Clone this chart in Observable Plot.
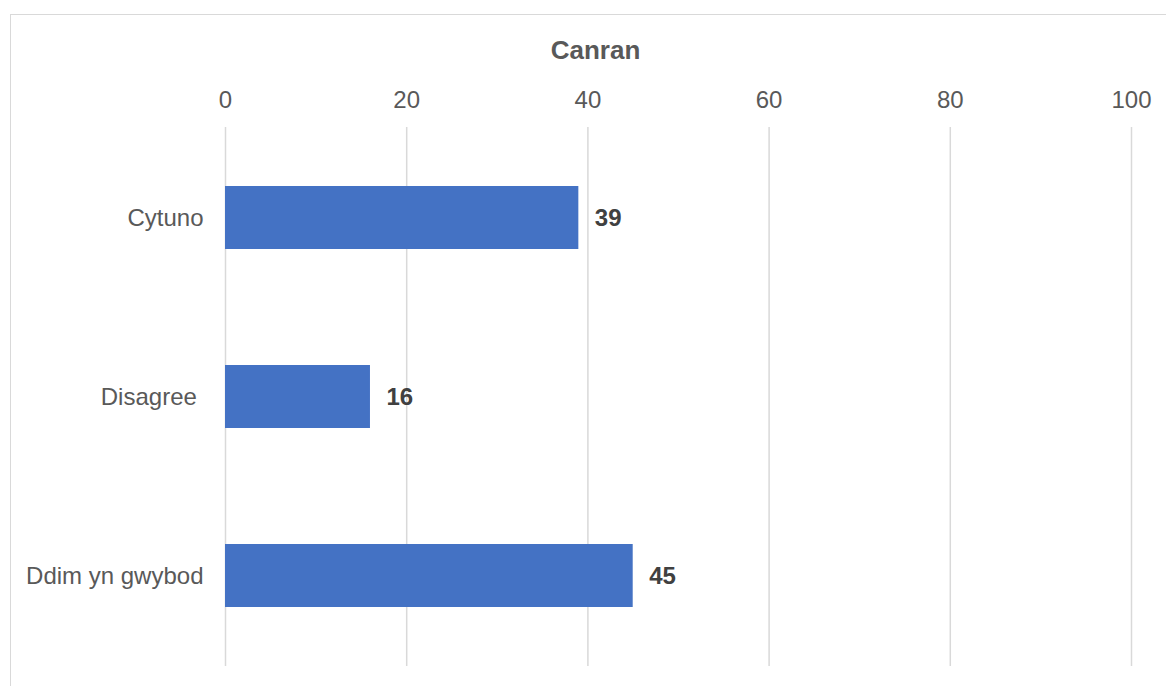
<!DOCTYPE html>
<html>
<head>
<meta charset="utf-8">
<script src="https://cdn.jsdelivr.net/npm/d3@7"></script>
<script src="https://cdn.jsdelivr.net/npm/@observablehq/plot@0.6"></script>
<style>
  html, body { margin: 0; padding: 0; background: #fff; }
  #wrap { position: relative; width: 1166px; height: 686px; overflow: hidden; }
  #frame { position: absolute; left: 10px; top: 14px; width: 1170px; height: 690px; border: 1px solid #d9d9d9; box-sizing: border-box; }
  #chart { position: absolute; left: 0; top: 0; }
  #chart svg text { white-space: pre; }
</style>
</head>
<body>
<div id="wrap"><div id="frame"></div><div id="chart"></div></div>
<script>
const categories = ["Cytuno", "Disagree ", "Ddim yn gwybod"];
const values = [39, 16, 45];
const xTicks = [0, 20, 40, 60, 80, 100];
const axisTitle = "Canran";

const data = categories.map((c, i) => ({category: c, value: values[i]}));

const chart = Plot.plot({
  width: 1166,
  height: 686,
  marginLeft: 225,
  marginRight: 35,
  marginTop: 127,
  marginBottom: 20,
  style: {fontFamily: "'Liberation Sans', Arial, sans-serif", fontSize: "24px", color: "#595959", background: "transparent"},
  x: {domain: [0, 100], ticks: xTicks, axis: "top", label: null, tickSize: 0, tickPadding: 20},
  y: {domain: categories, paddingInner: 0.65, paddingOuter: 0.325, label: null, tickSize: 0, tickPadding: 22},
  marks: [
    Plot.ruleX(xTicks, {stroke: "#d9d9d9", strokeWidth: 1.5}),
    Plot.barX(data, {x: "value", y: "category", fill: "#4472C4"}),
    Plot.text(data, {x: "value", y: "category", text: d => String(d.value), textAnchor: "start", dx: 16, fontWeight: "bold", fill: "#404040", fontSize: 24}),
    Plot.text([axisTitle], {frameAnchor: "top", lineAnchor: "middle", dx: -83, dy: -77, text: d => d, fontWeight: "bold", fontSize: 26, fill: "#595959"})
  ]
});
document.getElementById("chart").appendChild(chart);
</script>
</body>
</html>
